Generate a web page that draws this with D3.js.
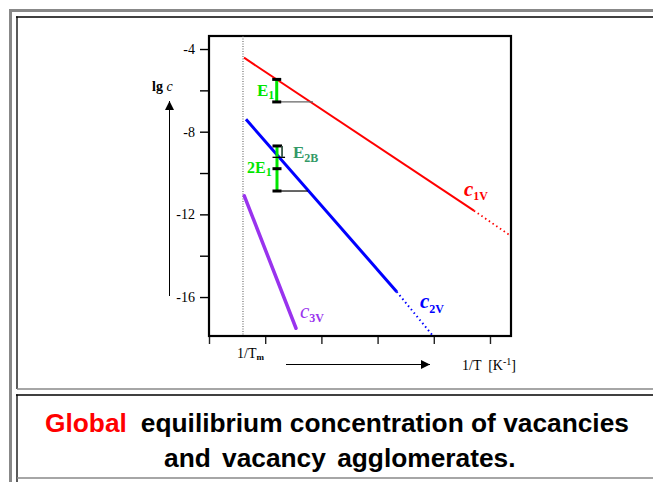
<!DOCTYPE html>
<html><head><meta charset="utf-8">
<script src="https://cdn.jsdelivr.net/npm/d3@7"></script>
<style>
html,body{margin:0;padding:0;background:#fff;}
svg{display:block;}
</style></head>
<body>
<svg id="chart" width="653" height="482"></svg>
<script>
// ---- data ----
const xTicks = [0, 1, 2, 3, 4, 5];
const yTicks = [-4, -6, -8, -10, -12, -14, -16];
const yTickLabels = ["-4", "", "-8", "", "-12", "", "-16"];
const xDomain = [0, 5.374];
const yDomain = [-3.37, -17.885];
const meltX = 0.605; // 1/Tm

const c1vSolid = [[0.623, -4.42], [4.715, -11.82]];
const c1vDotted = [[4.715, -11.82], [5.374, -13.05]];
const c2vSolid = [[0.658, -7.40], [3.34, -15.74]];
const c2vDotted = [[3.34, -15.74], [3.986, -17.885]];
const c3vSolid = [[0.628, -11.10], [1.548, -17.51]];

// energy markers: x, top, bottom, reference-line end
const e1Marker = [1.205, -5.47, -6.56, 1.85];
const e2Marker = [1.21, -8.69, -10.87, 1.76];
const e2Mid = -9.79;
const e2bBracket = [1.30, -8.69, -9.24];

const seriesNames = ["1V", "2V", "3V"];
const captionWords = ["Global", "equilibrium concentration of vacancies", "and vacancy agglomerates."];

// ---- drawing ----
const svg = d3.select("#chart");
const serif = "'Liberation Serif','Times New Roman',serif";
const sans = "'Liberation Sans',Arial,sans-serif";

// slide frames
const frame = svg.append("g");
frame.append("line").attr("x1", 9).attr("x2", 653).attr("y1", 10.5).attr("y2", 10.5).attr("stroke", "#888").attr("stroke-width", 3);
frame.append("line").attr("x1", 10.5).attr("x2", 10.5).attr("y1", 9).attr("y2", 482).attr("stroke", "#888").attr("stroke-width", 3);
frame.append("line").attr("x1", 16).attr("x2", 653).attr("y1", 17).attr("y2", 17).attr("stroke", "#000").attr("stroke-width", 1.3);
frame.append("line").attr("x1", 17).attr("x2", 17).attr("y1", 16.5).attr("y2", 389).attr("stroke", "#000").attr("stroke-width", 1.3);
frame.append("line").attr("x1", 17).attr("x2", 653).attr("y1", 389).attr("y2", 389).attr("stroke", "#888").attr("stroke-width", 1.3);
frame.append("line").attr("x1", 16).attr("x2", 653).attr("y1", 395).attr("y2", 395).attr("stroke", "#000").attr("stroke-width", 1.3);
frame.append("line").attr("x1", 17).attr("x2", 17).attr("y1", 394.5).attr("y2", 482).attr("stroke", "#000").attr("stroke-width", 1.3);
frame.append("line").attr("x1", 17).attr("x2", 653).attr("y1", 478).attr("y2", 478).attr("stroke", "#888").attr("stroke-width", 1.3);

const x = d3.scaleLinear().domain(xDomain).range([209, 511]);
const y = d3.scaleLinear().domain(yDomain).range([36, 336]);

// axes
const yAxis = d3.axisLeft(y).tickValues(yTicks).tickSize(9).tickPadding(5)
  .tickFormat((d, i) => yTickLabels[i]);
const gy = svg.append("g").attr("transform", `translate(${x(xDomain[0])},0)`).call(yAxis);
gy.select(".domain").remove();
gy.selectAll(".tick line").attr("stroke", "#000").attr("stroke-width", 1.4);
gy.selectAll(".tick text").attr("font-family", serif).attr("font-size", 14).attr("fill", "#000");

const xAxis = d3.axisBottom(x).tickValues(xTicks).tickSize(8).tickFormat("");
const gx = svg.append("g").attr("transform", `translate(0,${y(yDomain[1])})`).call(xAxis);
gx.select(".domain").remove();
gx.selectAll(".tick line").attr("stroke", "#222").attr("stroke-width", 1.4);

// plot box
svg.append("rect").attr("x", x(xDomain[0])).attr("y", y(yDomain[0]))
  .attr("width", x(xDomain[1]) - x(xDomain[0])).attr("height", y(yDomain[1]) - y(yDomain[0]))
  .attr("fill", "none").attr("stroke", "#000").attr("stroke-width", 2.2);

// melting line
svg.append("line").attr("x1", x(meltX)).attr("x2", x(meltX)).attr("y1", y(yDomain[0])).attr("y2", y(yDomain[1]))
  .attr("stroke", "#555").attr("stroke-width", 1).attr("stroke-dasharray", "1,1.5");

const line = d3.line().x(d => x(d[0])).y(d => y(d[1]));
function path(data, color, w, dash) {
  const p = svg.append("path").attr("d", line(data)).attr("fill", "none").attr("stroke", color).attr("stroke-width", w);
  if (dash) p.attr("stroke-dasharray", dash);
  return p;
}
path(c1vSolid, "#ff0000", 2);
path(c1vDotted, "#ff0000", 1.8, "1.5,3");
path(c2vSolid, "#0000ff", 3);
path(c2vDotted, "#0000ff", 2, "1.5,3");
path(c3vSolid, "#9933ee", 3.5).attr("stroke-linecap", "round");

// markers
const green = "#00e600";
function hline(x0, x1, yv, color, w) {
  svg.append("line").attr("x1", x0).attr("x2", x1).attr("y1", y(yv)).attr("y2", y(yv)).attr("stroke", color).attr("stroke-width", w);
}
// E1
hline(x(e1Marker[0]), x(e1Marker[3]), e1Marker[2], "#666", 1.3);
svg.append("line").attr("x1", x(e1Marker[0])).attr("x2", x(e1Marker[0])).attr("y1", y(e1Marker[1])).attr("y2", y(e1Marker[2])).attr("stroke", green).attr("stroke-width", 3);
hline(x(e1Marker[0]) - 4.5, x(e1Marker[0]) + 4.5, e1Marker[1], "#000", 3);
hline(x(e1Marker[0]) - 4.5, x(e1Marker[0]) + 4.5, e1Marker[2], "#000", 3);
// 2E1
hline(x(e2Marker[0]), x(e2Marker[3]), e2Marker[2], "#000", 1.2);
svg.append("line").attr("x1", x(e2Marker[0])).attr("x2", x(e2Marker[0])).attr("y1", y(e2Marker[1])).attr("y2", y(e2Marker[2])).attr("stroke", green).attr("stroke-width", 3);
hline(x(e2Marker[0]) - 4.5, x(e2bBracket[0]), e2Marker[1], "#000", 3);
hline(x(e2Marker[0]) - 4.5, x(e2Marker[0]) + 4.5, e2Mid, "#000", 3);
hline(x(e2Marker[0]) - 4.5, x(e2Marker[0]) + 4.5, e2Marker[2], "#000", 3);
// E2B bracket
hline(x(e2Marker[0]) - 4.5, x(e2bBracket[0]) + 3, e2bBracket[2], "#000", 1.3);
svg.append("line").attr("x1", x(e2bBracket[0])).attr("x2", x(e2bBracket[0])).attr("y1", y(e2bBracket[1])).attr("y2", y(e2bBracket[2])).attr("stroke", "#335544").attr("stroke-width", 1.8);

// text helper with subscript
function label(px, py, main, sub, opts) {
  const t = svg.append("text").attr("x", px).attr("y", py).attr("font-family", serif)
    .attr("font-size", opts.size).attr("fill", opts.color).attr("font-weight", opts.weight || "normal");
  t.append("tspan").text(main).attr("font-style", opts.italic ? "italic" : "normal");
  if (sub) t.append("tspan").text(sub).attr("font-size", opts.subSize).attr("dy", opts.subDy || 4)
    .attr("font-style", "normal").attr("font-weight", opts.subWeight || opts.weight || "normal");
  return t;
}
label(257, 96, "E", "1", {size: 17, subSize: 12, color: green, weight: "bold", subDy: 3});
label(293, 158, "E", "2B", {size: 17, subSize: 12, color: "#339966", weight: "bold", subDy: 4});
label(247, 173, "2E", "1", {size: 16, subSize: 12, color: green, weight: "bold", subDy: 3});

label(464, 196, "c", seriesNames[0], {size: 21, subSize: 12, color: "#ff0000", weight: "bold", italic: true, subDy: 4});
label(420, 308, "c", seriesNames[1], {size: 21, subSize: 12, color: "#0000ff", weight: "bold", italic: true, subDy: 5});
label(300, 318, "c", seriesNames[2], {size: 21, subSize: 12, color: "#9933ee", weight: "normal", subWeight: "bold", italic: true, subDy: 4});

// y label "lg c"
const yl = svg.append("text").attr("x", 152).attr("y", 91).attr("font-family", serif).attr("font-size", 14).attr("fill", "#000");
yl.append("tspan").text("lg ").attr("font-weight", "bold");
yl.append("tspan").text("c").attr("font-style", "italic");

// arrows
svg.append("defs").append("marker").attr("id", "arr").attr("viewBox", "0 0 10 10").attr("refX", 10).attr("refY", 5)
  .attr("markerWidth", 9).attr("markerHeight", 9).attr("markerUnits", "userSpaceOnUse").attr("orient", "auto")
  .append("path").attr("d", "M0,0L10,5L0,10Z").attr("fill", "#000");
svg.append("line").attr("x1", 169.5).attr("x2", 169.5).attr("y1", 296).attr("y2", 101).attr("stroke", "#000").attr("stroke-width", 1).attr("marker-end", "url(#arr)");
svg.append("line").attr("x1", 286).attr("x2", 430).attr("y1", 364.5).attr("y2", 364.5).attr("stroke", "#000").attr("stroke-width", 1).attr("marker-end", "url(#arr)");

// x labels
label(237, 358, "1/T", "m", {size: 14, subSize: 9, color: "#000", weight: "normal", subWeight: "bold", subDy: 2});
const xl = svg.append("text").attr("x", 462).attr("y", 370).attr("font-family", serif).attr("font-size", 14).attr("fill", "#000").attr("xml:space", "preserve");
xl.append("tspan").text("1/T  [K");
xl.append("tspan").text("-1").attr("font-size", 10).attr("dy", -5);
xl.append("tspan").text("]").attr("dy", 5);

// caption
const cap1 = svg.append("text").attr("x", 45).attr("y", 432).attr("font-family", sans).attr("font-size", 26.3).attr("font-weight", "bold");
cap1.append("tspan").text(captionWords[0]).attr("fill", "#ff0000");
cap1.append("tspan").text(captionWords[1]).attr("fill", "#000").attr("dx", 14);
svg.append("text").attr("x", 164).attr("y", 467).attr("font-family", sans).attr("font-size", 26.3).attr("font-weight", "bold")
  .attr("fill", "#000").attr("word-spacing", 4).text(captionWords[2]);
</script>
</body></html>
